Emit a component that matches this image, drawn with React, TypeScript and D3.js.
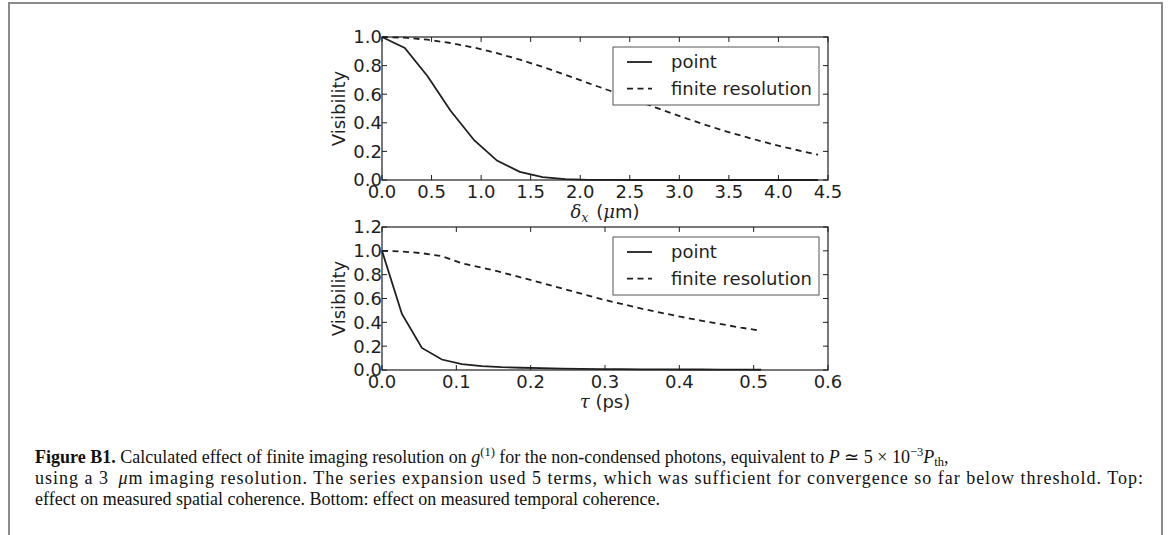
import React from "react";
import * as d3 from "d3";

// Spatial coherence (top panel): separation δx in μm
const spatialX = [0, 0.23, 0.46, 0.69, 0.93, 1.16, 1.39, 1.62, 1.85, 2.08, 2.32, 2.55, 2.78, 3.01, 3.24, 3.47, 3.71, 3.94, 4.17, 4.4];
const spatialPoint = [1.0, 0.923, 0.726, 0.486, 0.278, 0.136, 0.057, 0.02, 0.006, 0.0015, 0.0003, 0.0001, 0, 0, 0, 0, 0, 0, 0, 0];
const spatialFinite = [1.0, 0.995, 0.981, 0.958, 0.926, 0.887, 0.842, 0.791, 0.736, 0.678, 0.619, 0.56, 0.502, 0.445, 0.391, 0.34, 0.293, 0.25, 0.212, 0.177];
const spatialXTicks = [0, 0.5, 1.0, 1.5, 2.0, 2.5, 3.0, 3.5, 4.0, 4.5];
const spatialYTicks = [0, 0.2, 0.4, 0.6, 0.8, 1.0];

// Temporal coherence (bottom panel): delay τ in ps
const temporalX = [0, 0.0268, 0.0537, 0.0805, 0.1074, 0.1342, 0.161, 0.188, 0.215, 0.242, 0.268, 0.295, 0.322, 0.349, 0.376, 0.403, 0.429, 0.456, 0.483, 0.51];
const temporalPoint = [1.0, 0.47, 0.185, 0.088, 0.05, 0.033, 0.024, 0.019, 0.015, 0.012, 0.01, 0.008, 0.007, 0.006, 0.005, 0.004, 0.004, 0.003, 0.003, 0.002];
const temporalFinite = [1.0, 0.995, 0.98, 0.955, 0.895, 0.86, 0.82, 0.775, 0.73, 0.685, 0.64, 0.595, 0.555, 0.515, 0.48, 0.445, 0.415, 0.385, 0.355, 0.33];
const temporalXTicks = [0, 0.1, 0.2, 0.3, 0.4, 0.5, 0.6];
const temporalYTicks = [0, 0.2, 0.4, 0.6, 0.8, 1.0, 1.2];

const legendLabels = ["point", "finite resolution"];

const SANS = "'DejaVu Sans', sans-serif";
const MATH = "'DejaVu Serif', serif";
const CAPTION = "'Liberation Serif', serif";
const INK = "#1f1f1f";
const DASH = "6,4.5";

type PanelProps = {
  top: number;
  xs: number[];
  point: number[];
  finite: number[];
  xDomain: [number, number];
  yDomain: [number, number];
  xTicks: number[];
  yTicks: number[];
  xLabel: React.ReactNode;
};

const LEFT = 382;
const RIGHT = 828;
const HEIGHT = 143;
const TICK_FONT = 18;

function Panel({ top, xs, point, finite, xDomain, yDomain, xTicks, yTicks, xLabel }: PanelProps) {
  const x = d3.scaleLinear().domain(xDomain).range([LEFT, RIGHT]);
  const y = d3.scaleLinear().domain(yDomain).range([top + HEIGHT, top]);
  const line = d3
    .line<number>()
    .x((_, i) => x(xs[i]))
    .y((d) => y(d));
  const tl = 5;
  const bottom = top + HEIGHT;
  const legX = 613;
  const legY = top + 10;
  return (
    <g>
      <path d={line(point) ?? ""} fill="none" stroke={INK} strokeWidth={1.8} />
      <path d={line(finite) ?? ""} fill="none" stroke={INK} strokeWidth={1.8} strokeDasharray={DASH} />
      <rect x={LEFT} y={top} width={RIGHT - LEFT} height={HEIGHT} fill="none" stroke={INK} strokeWidth={1.2} />
      {xTicks.map((t) => (
        <g key={"x" + t}>
          <line x1={x(t)} x2={x(t)} y1={bottom} y2={bottom - tl} stroke={INK} strokeWidth={1} />
          <line x1={x(t)} x2={x(t)} y1={top} y2={top + tl} stroke={INK} strokeWidth={1} />
          <text x={x(t)} y={bottom + 17.5} textAnchor="middle" fontFamily={SANS} fontSize={TICK_FONT} fill={INK}>
            {t.toFixed(1)}
          </text>
        </g>
      ))}
      {yTicks.map((t) => (
        <g key={"y" + t}>
          <line x1={LEFT} x2={LEFT + tl} y1={y(t)} y2={y(t)} stroke={INK} strokeWidth={1} />
          <line x1={RIGHT} x2={RIGHT - tl} y1={y(t)} y2={y(t)} stroke={INK} strokeWidth={1} />
          <text x={382} y={y(t)} dy="0.36em" textAnchor="end" fontFamily={SANS} fontSize={TICK_FONT} fill={INK}>
            {t.toFixed(1)}
          </text>
        </g>
      ))}
      <text
        transform={`translate(345,${top + HEIGHT / 2}) rotate(-90)`}
        textAnchor="middle"
        fontFamily={SANS}
        fontSize={18}
        fill={INK}
      >
        Visibility
      </text>
      <text x={(LEFT + RIGHT) / 2} y={bottom + 38} textAnchor="middle" fontFamily={SANS} fontSize={18} fill={INK}>
        {xLabel}
      </text>
      {/* legend */}
      <rect x={legX} y={legY} width={206} height={58} fill="#fff" stroke="#555" strokeWidth={1} />
      {legendLabels.map((lab, i) => {
        const cy = legY + 15 + i * 26.6;
        return (
          <g key={lab}>
            <line
              x1={627}
              x2={652}
              y1={cy}
              y2={cy}
              stroke={INK}
              strokeWidth={1.8}
              strokeDasharray={i === 1 ? DASH : undefined}
            />
            <text x={671} y={cy} dy="0.36em" fontFamily={SANS} fontSize={18} fill={INK}>
              {lab}
            </text>
          </g>
        );
      })}
    </g>
  );
}

export default function App() {
  return (
    <svg
      width={1168}
      height={535}
      viewBox="0 0 1168 535"
      style={{ position: "absolute", left: 0, top: 0, background: "#fff" }}
    >
      <rect x={0} y={0} width={1168} height={535} fill="#fff" />
      <path d="M9,540 V3 H1162 V540" fill="none" stroke="#8a8a8a" strokeWidth={2} />
      <Panel
        top={37}
        xs={spatialX}
        point={spatialPoint}
        finite={spatialFinite}
        xDomain={[0, 4.5]}
        yDomain={[0, 1.0]}
        xTicks={spatialXTicks}
        yTicks={spatialYTicks}
        xLabel={
          <>
            <tspan fontFamily={MATH} fontStyle="italic">δ</tspan>
            <tspan fontFamily={MATH} fontStyle="italic" fontSize={12} dy={4}>x</tspan>
            <tspan dy={-4} dx={8}>(</tspan>
            <tspan fontFamily={MATH} fontStyle="italic">μ</tspan>
            <tspan>m)</tspan>
          </>
        }
      />
      <Panel
        top={227}
        xs={temporalX}
        point={temporalPoint}
        finite={temporalFinite}
        xDomain={[0, 0.6]}
        yDomain={[0, 1.2]}
        xTicks={temporalXTicks}
        yTicks={temporalYTicks}
        xLabel={
          <>
            <tspan fontFamily={MATH} fontStyle="italic">τ</tspan>
            <tspan> (ps)</tspan>
          </>
        }
      />
      <g fontFamily={CAPTION} fontSize={18} fill="#111">
        <text x={35} y={463}>
          <tspan fontWeight="bold">Figure B1.</tspan>
          <tspan> Calculated effect of finite imaging resolution on </tspan>
          <tspan fontStyle="italic">g</tspan>
          <tspan fontSize={12.5} dy={-7}>(1)</tspan>
          <tspan dy={7}> for the non-condensed photons, equivalent to </tspan>
          <tspan fontStyle="italic">P</tspan>
          <tspan> ≃ 5 × 10</tspan>
          <tspan fontSize={12.5} dy={-7}>−3</tspan>
          <tspan fontStyle="italic" dy={7}>P</tspan>
          <tspan fontSize={12.5} dy={3}>th</tspan>
          <tspan dy={-3}>,</tspan>
        </text>
        <text x={35} y={484} textLength={1108} lengthAdjust="spacing">
          <tspan>using a 3 </tspan>
          <tspan fontStyle="italic" dx={4}>μ</tspan>
          <tspan>m imaging resolution. The series expansion used 5 terms, which was sufficient for convergence so far below threshold. Top:</tspan>
        </text>
        <text x={35} y={505}>
          effect on measured spatial coherence. Bottom: effect on measured temporal coherence.
        </text>
      </g>
    </svg>
  );
}
